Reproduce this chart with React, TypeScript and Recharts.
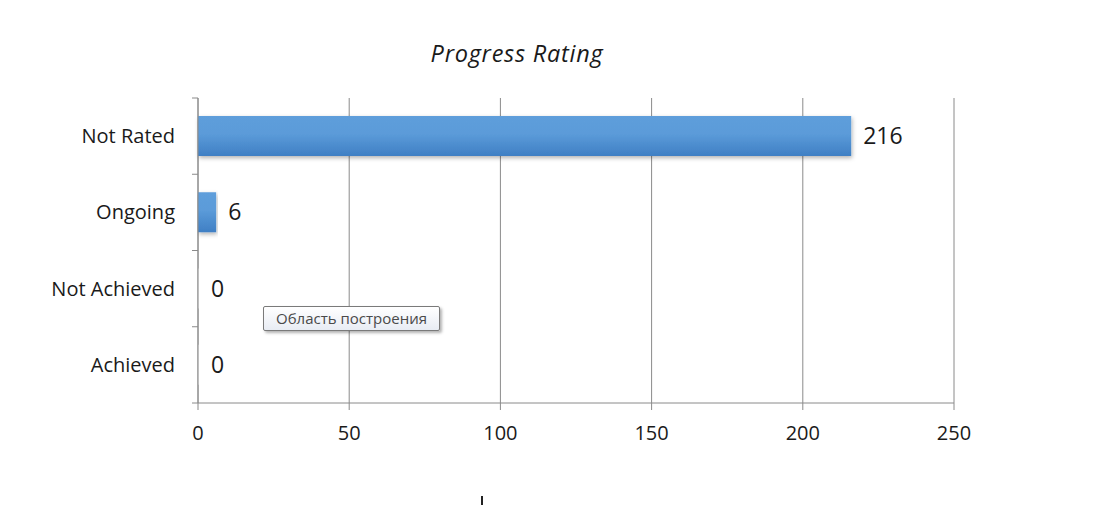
import React from "react";
import { BarChart, Bar, XAxis, YAxis, CartesianGrid, LabelList, Cell } from "recharts";

const categories = ["Not Rated", "Ongoing", "Not Achieved", "Achieved"];
const counts = [216, 6, 0, 0];
const xTicks = [0, 50, 100, 150, 200, 250];
const chartTitle = "Progress Rating";
const hoverHint = "Область построения";

const data = categories.map((name, i) => ({ name, value: counts[i] }));

const W = 1120;
const H = 505;
const TOP = 98;
const BOTTOM_H = 102;
const LEFT_W = 198;
const RIGHT = 166;
const PLOT_H = H - TOP - BOTTOM_H;
const HALF_BAND = PLOT_H / categories.length / 2;
const FONT = "'Open Sans', sans-serif";
const AXIS_COLOR = "#8a8a8a";

const CategoryTick = (props: any) => {
  const { x, y, payload, index } = props;
  const ax = LEFT_W;
  const isLast = index === categories.length - 1;
  return (
    <g>
      <line x1={ax - 6} x2={ax} y1={y - HALF_BAND} y2={y - HALF_BAND} stroke={AXIS_COLOR} strokeWidth={1} />
      {isLast && (
        <line x1={ax - 6} x2={ax} y1={y + HALF_BAND} y2={y + HALF_BAND} stroke={AXIS_COLOR} strokeWidth={1} />
      )}
      <text x={x} y={y} dy="0.35em" textAnchor="end" fill="#1a1a1a" fontFamily={FONT} fontSize={20}>
        {payload.value}
      </text>
    </g>
  );
};

export default function App() {
  return (
    <div style={{ position: "absolute", left: 0, top: 0, width: W, height: H, background: "#fff", overflow: "hidden" }}>
      <div
        style={{
          position: "absolute",
          left: 0,
          width: W - 86,
          top: 37,
          textAlign: "center",
          fontFamily: FONT,
          fontStyle: "italic",
          fontSize: 23.5,
          letterSpacing: 0.75,
          color: "#1a1a1a",
        }}
      >
        {chartTitle}
      </div>
      <BarChart
        width={W}
        height={H}
        data={data}
        layout="vertical"
        margin={{ top: TOP, right: RIGHT, bottom: 0, left: 0 }}
        barCategoryGap={18}
      >
        <defs>
          <linearGradient id="barGrad" x1="0" y1="0" x2="0" y2="1">
            <stop offset="0%" stopColor="#5e9edb" />
            <stop offset="45%" stopColor="#5b9bd9" />
            <stop offset="100%" stopColor="#3f7fc4" />
          </linearGradient>
          <filter id="barShadow" x="-5%" y="-30%" width="110%" height="160%">
            <feDropShadow dx="1" dy="2" stdDeviation="2" floodColor="#000" floodOpacity="0.3" />
          </filter>
        </defs>
        <CartesianGrid horizontal={false} vertical stroke={AXIS_COLOR} strokeWidth={1} />
        <XAxis
          type="number"
          domain={[0, 250]}
          ticks={xTicks}
          interval={0}
          height={BOTTOM_H}
          stroke={AXIS_COLOR}
          tickSize={7}
          tickMargin={16}
          tick={{ fill: "#1a1a1a", fontFamily: FONT, fontSize: 20 }}
        />
        <YAxis
          type="category"
          dataKey="name"
          width={LEFT_W}
          stroke={AXIS_COLOR}
          tickLine={false}
          tickSize={0}
          tickMargin={23}
          tick={<CategoryTick />}
        />
        <Bar dataKey="value" fill="url(#barGrad)" filter="url(#barShadow)" minPointSize={1} isAnimationActive={false}>
          {data.map((d, i) => (
            <Cell key={i} fill={d.value === 0 ? "#f2f2f2" : "url(#barGrad)"} filter={d.value === 0 ? undefined : "url(#barShadow)"} />
          ))}
          <LabelList
            dataKey="value"
            position="right"
            offset={12}
            fill="#1a1a1a"
            fontFamily={FONT}
            fontSize={23}
          />
        </Bar>
      </BarChart>
      <div
        style={{
          position: "absolute",
          left: 263,
          top: 306,
          width: 177,
          height: 25,
          boxSizing: "border-box",
          border: "1px solid #7a7a7a",
          borderRadius: 2,
          background: "linear-gradient(#ffffff, #e8ecf4)",
          boxShadow: "2px 2px 3px rgba(0,0,0,0.3)",
          fontFamily: FONT,
          fontSize: 15,
          color: "#4a4a4a",
          lineHeight: "22px",
          textAlign: "center",
          whiteSpace: "nowrap",
        }}
      >
        {hoverHint}
      </div>
      <div style={{ position: "absolute", left: 481, top: 496, width: 2, height: 9, background: "#222" }} />
    </div>
  );
}
